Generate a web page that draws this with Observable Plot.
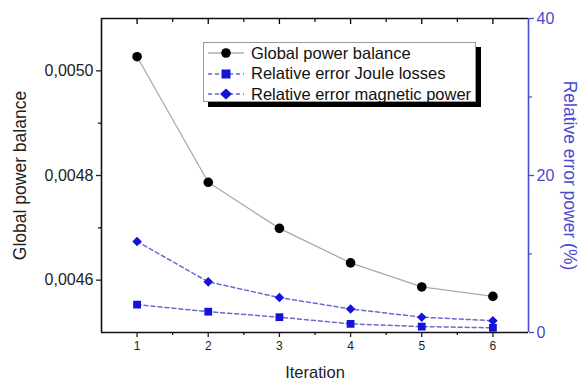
<!DOCTYPE html>
<html>
<head>
<meta charset="utf-8">
<script src="https://cdn.jsdelivr.net/npm/d3@7"></script>
<script src="https://cdn.jsdelivr.net/npm/@observablehq/plot@0.6"></script>
<style>
  body { margin: 0; background: #fff; font-family: "Liberation Sans", Arial, sans-serif; }
  #wrap { position: relative; width: 581px; height: 383px; }
  #legend { position: absolute; left: 203px; top: 42px; width: 273px; height: 60px;
    background: #fff; border: 1px solid #999; box-shadow: 5px 5px 0 #000; box-sizing: border-box; }
  .row { position: absolute; left: 3px; height: 20px; display: flex; align-items: center; font-size: 16.5px; color: #111; white-space: nowrap; }
  .row svg { margin-right: 6px; }
</style>
</head>
<body>
<div id="wrap"></div>
<script>
// ---- data ----
const iterations = [1, 2, 3, 4, 5, 6];
const globalBalance = [0.005027, 0.004787, 0.004699, 0.004633, 0.004587, 0.004569];
const errJoule = [3.55, 2.65, 1.95, 1.1, 0.75, 0.6];
const errMagnetic = [11.6, 6.45, 4.45, 3.0, 1.95, 1.5];
const leftTicks = [0.0046, 0.0048, 0.0050];
const leftMinor = [0.0047, 0.0049];
const rightTicks = [0, 20, 40];
const rightMinor = [10, 30];
const minorX = [1.5, 2.5, 3.5, 4.5, 5.5];
const seriesNames = ["Global power balance", "Relative error Joule losses", "Relative error magnetic power"];
const xTitle = ["Iteration"];
const yTitle = ["Global power balance"];
const y2Title = ["Relative error power (%)"];

const yDomain = [0.0045, 0.0051];
const rDomain = [0, 40];
const toLeft = v => yDomain[0] + (v - rDomain[0]) / (rDomain[1] - rDomain[0]) * (yDomain[1] - yDomain[0]);
const fromLeft = y => rDomain[0] + (y - yDomain[0]) / (yDomain[1] - yDomain[0]) * (rDomain[1] - rDomain[0]);

const blueAxis = "#4a4ad0";
const blueMark = "#1414d8";
const dashBlue = "#6a6ad0";

const g = iterations.map((x, i) => ({x, y: globalBalance[i]}));
const j = iterations.map((x, i) => ({x, y: toLeft(errJoule[i])}));
const m = iterations.map((x, i) => ({x, y: toLeft(errMagnetic[i])}));

const chart = Plot.plot({
  width: 581, height: 383,
  marginLeft: 101, marginRight: 53, marginTop: 18, marginBottom: 51,
  style: {fontFamily: '"Liberation Sans", Arial, sans-serif', background: "#fff", overflow: "visible"},
  x: {domain: [0.5, 6.5]},
  y: {domain: yDomain},
  marks: [
    // bottom axis
    Plot.axisX(iterations, {anchor: "bottom", tickSize: 5, tickPadding: 4, fontSize: 12, color: "#222", strokeWidth: 1.3,
      label: null, tickFormat: d => String(d)}),
    Plot.axisX(minorX, {anchor: "bottom", tickSize: 3, tickFormat: () => "", label: null, strokeWidth: 1.2}),
    // top inner ticks
    Plot.axisX(iterations, {anchor: "top", tickSize: -5, tickFormat: () => "", label: null, strokeWidth: 1.3}),
    Plot.axisX(minorX, {anchor: "top", tickSize: -3, tickFormat: () => "", label: null, strokeWidth: 1.2}),
    // left axis
    Plot.axisY(leftTicks, {anchor: "left", tickSize: 5, tickPadding: 3, fontSize: 16, color: "#222", strokeWidth: 1.3,
      tickFormat: d => d.toFixed(4).replace(".", ","), label: null}),
    Plot.axisY(leftMinor, {anchor: "left", tickSize: 3, tickFormat: () => "", label: null, strokeWidth: 1.2}),
    // right axis
    Plot.axisY(rightTicks.map(toLeft), {anchor: "right", tickSize: 5, tickPadding: 3, fontSize: 16, color: blueAxis, strokeWidth: 1.3,
      tickFormat: d => String(Math.round(fromLeft(d))), label: null}),
    Plot.axisY(rightMinor.map(toLeft), {anchor: "right", tickSize: 3, tickFormat: () => "", label: null, stroke: blueAxis, strokeWidth: 1.2}),
    // axis titles
    Plot.text(xTitle, {text: d => d, frameAnchor: "bottom", dy: 40, lineAnchor: "middle", textAnchor: "middle", fontSize: 16.5, fill: "#222"}),
    Plot.text(yTitle, {text: d => d, frameAnchor: "left", dx: -81, rotate: -90, lineAnchor: "middle", textAnchor: "middle", fontSize: 17.5, fill: "#222"}),
    Plot.text(y2Title, {text: d => d, frameAnchor: "right", dx: 41, rotate: 90, lineAnchor: "middle", textAnchor: "middle", fontSize: 17.5, fill: blueAxis}),
    // frame
    Plot.ruleY([yDomain[0]], {stroke: "#111", strokeWidth: 1.6}),
    Plot.ruleY([yDomain[1]], {stroke: "#111", strokeWidth: 1.6}),
    Plot.ruleX([0.5], {stroke: "#111", strokeWidth: 1.6}),
    Plot.ruleX([6.5], {stroke: blueAxis, strokeWidth: 1.6}),
    // series
    Plot.line(g, {x: "x", y: "y", stroke: "#aaa", strokeWidth: 1.3}),
    Plot.line(j, {x: "x", y: "y", stroke: dashBlue, strokeWidth: 1.5, strokeDasharray: "4,3"}),
    Plot.line(m, {x: "x", y: "y", stroke: dashBlue, strokeWidth: 1.5, strokeDasharray: "4,3"}),
    Plot.dot(g, {x: "x", y: "y", r: 4.8, fill: "#000"}),
    Plot.dot(j, {x: "x", y: "y", r: 4.4, symbol: "square", fill: blueMark}),
    Plot.dot(m, {x: "x", y: "y", r: 4.3, symbol: "diamond2", fill: blueMark})
  ]
});

const wrap = document.getElementById("wrap");
wrap.appendChild(chart);

// legend (inside plot area)
const legend = document.createElement("div");
legend.id = "legend";
const sym = [
  `<svg width="38" height="14"><line x1="1" y1="7" x2="37" y2="7" stroke="#888" stroke-width="1.2"/><circle cx="19" cy="7" r="4.8" fill="#000"/></svg>`,
  `<svg width="38" height="14"><line x1="1" y1="7" x2="37" y2="7" stroke="${dashBlue}" stroke-width="1.5" stroke-dasharray="4,3"/><rect x="14.5" y="2.5" width="9" height="9" fill="${blueMark}"/></svg>`,
  `<svg width="38" height="14"><line x1="1" y1="7" x2="37" y2="7" stroke="${dashBlue}" stroke-width="1.5" stroke-dasharray="4,3"/><path d="M19,1.5 L25,7 L19,12.5 L13,7Z" fill="${blueMark}"/></svg>`
];
seriesNames.forEach((name, i) => {
  const r = document.createElement("div");
  r.className = "row";
  r.style.top = (0 + i * 20.5) + "px";
  r.innerHTML = sym[i] + `<span>${name}</span>`;
  legend.appendChild(r);
});
wrap.appendChild(legend);
</script>
</body>
</html>
